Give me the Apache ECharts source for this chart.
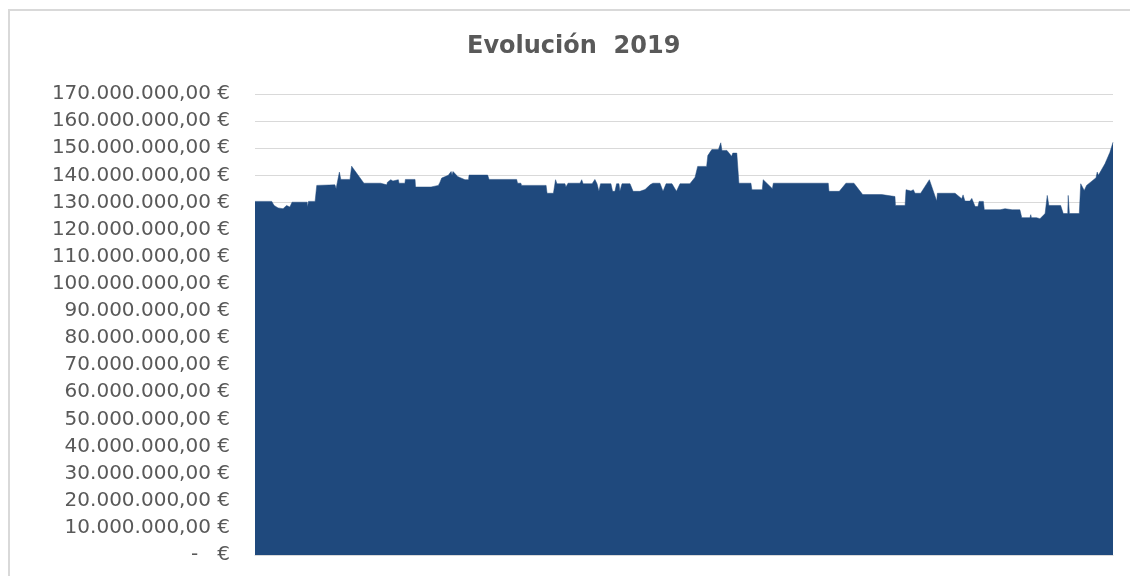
<!DOCTYPE html>
<html>
<head>
<meta charset="utf-8">
<title>Evolución 2019</title>
<script src="https://cdn.jsdelivr.net/npm/echarts@6/dist/echarts.min.js"></script>
<style>
  html, body { margin: 0; padding: 0; background: #fff; overflow: hidden; }
  #frame { position: absolute; left: 8px; top: 9px; width: 1200px; height: 700px;
           border-left: 2px solid #d9d9d9; border-top: 2px solid #d9d9d9; }
  #chart { position: absolute; left: 0; top: 0; width: 1130px; height: 576px; }
</style>
</head>
<body>
<div id="frame"></div>
<div id="chart"></div>
<script>
// day of year (0 = 1 Jan 2019) and balance in millions of euros
const days = [
  0, 7.1, 8.1, 9.8, 11.9, 13.4, 14.8, 15.7, 22.1, 22.3, 22.7, 25.5, 26.2, 33.9, 34.4, 35.8,
  36.4, 40.3, 41.0, 41.7, 46.2, 53.3, 53.7, 55.9, 56.2, 57.6, 58.5, 60.8, 61.1, 63.6, 63.8,
  67.9, 68.1, 74.7, 74.9, 77.8, 78.5, 79.2, 82.0, 83.2, 83.6, 84.0, 86.1, 89.1, 90.6, 90.8,
  98.7, 99.3, 111.0, 111.4, 112.8, 113.1, 123.5, 123.9, 126.6, 127.5, 128.1, 131.5, 131.9,
  132.8, 137.9, 138.6, 139.2, 143.0, 144.2, 145.1, 145.9, 146.6, 151.0, 151.7, 152.7, 153.4,
  154.4, 154.8, 155.7, 159.1, 159.5, 160.4, 163.3, 165.5, 167.6, 168.8, 171.8, 173.1, 174.4,
  176.9, 177.3, 178.8, 180.3, 184.5, 186.7, 187.8, 191.6, 192.1, 193.8, 196.6, 197.6, 198.1,
  200.2, 202.2, 202.7, 204.4, 205.3, 210.4, 210.8, 215.2, 215.6, 219.5, 219.9, 243.2, 243.5,
  247.9, 250.7, 254.1, 257.8, 265.9, 266.4, 271.5, 271.7, 275.8, 276.2, 278.3, 279.3, 280.0,
  282.4, 286.1, 289.2, 289.5, 297.0, 299.8, 300.4, 301.2, 303.3, 304.1, 305.5, 306.7, 307.2,
  309.0, 309.4, 316.1, 318.2, 321.2, 324.5, 325.3, 328.8, 329.1, 329.4, 331.6, 333.0, 335.2,
  336.1, 336.8, 341.8, 342.9, 344.8, 345.0, 345.5, 349.7, 350.3, 351.8, 352.8, 356.8, 357.3,
  357.8, 360.6, 362.7, 364
];
const saldoM = [
  130.4, 130.4, 128.9, 128.0, 127.7, 128.9, 128.3, 130.1, 130.1, 128.3, 130.4, 130.4, 136.3, 136.5, 135.1, 141.2,
  138.5, 138.5, 143.4, 142.5, 137.1, 137.1, 136.5, 136.5, 137.5, 138.4, 137.9, 138.4, 137.1, 137.1, 138.5,
  138.5, 135.7, 135.7, 136.3, 136.3, 137.5, 139.0, 140.0, 141.4, 140.0, 141.4, 139.5, 138.4, 138.4, 140.1,
  140.1, 138.5, 138.5, 137.1, 137.1, 136.3, 136.3, 133.4, 133.4, 138.4, 136.9, 136.9, 135.7,
  137.1, 137.1, 138.4, 136.9, 136.9, 138.5, 136.9, 134.1, 136.9, 136.9, 134.1, 134.1, 136.9,
  136.9, 134.1, 136.9, 136.9, 137.5, 134.1, 134.1, 134.8, 136.5, 137.1, 137.1, 134.1, 136.9,
  136.9, 137.5, 134.1, 136.9, 136.9, 139.3, 143.3, 143.3, 147.3, 149.5, 149.5, 152.0, 149.2,
  149.2, 147.0, 148.2, 148.2, 137.1, 137.1, 134.7, 134.7, 138.4, 135.1, 137.1, 137.1, 134.1,
  134.1, 137.1, 137.1, 132.9, 132.9, 132.2, 132.2, 128.9, 128.9, 134.7, 134.2, 134.7, 133.4,
  133.4, 138.4, 130.5, 133.4, 133.4, 131.4, 132.8, 130.5, 130.5, 131.5, 128.5, 128.5, 130.4,
  130.4, 127.3, 127.3, 127.7, 127.3, 127.3, 124.4, 124.4, 125.5, 124.4, 124.4, 124.0, 125.9,
  132.6, 128.9, 128.9, 125.9, 125.9, 132.6, 125.9, 125.9, 136.9, 134.4, 136.3, 139.1, 141.2,
  140.0, 144.3, 148.5, 152.2
];
const yTicks = { min: 0, max: 170000000, step: 10000000 };

function euros (v) {
  if (v === 0) return '-   €';
  let s = Math.round(v).toString().replace(/\B(?=(\d{3})+(?!\d))/g, '.');
  return s + ',00 €';
}

const chart = echarts.init(document.getElementById('chart'), null, { renderer: 'canvas' });
const option = {
  backgroundColor: 'transparent',
  animation: false,
  title: {
    text: 'Evolución  2019',
    left: 462,
    top: 30,
    textStyle: { fontFamily: 'DejaVu Sans', fontWeight: 'bold', fontSize: 24, color: '#595959' }
  },
  grid: { left: 255, right: 17, top: 94, bottom: 21 },
  xAxis: {
    type: 'value',
    min: 0,
    max: 364,
    axisLine: { show: true, lineStyle: { color: '#d9d9d9', width: 1 } },
    axisTick: { show: false },
    axisLabel: { show: false },
    splitLine: { show: false }
  },
  yAxis: {
    type: 'value',
    min: yTicks.min,
    max: yTicks.max,
    interval: yTicks.step,
    axisLine: { show: false },
    axisTick: { show: false },
    axisLabel: {
      formatter: euros,
      margin: 25,
      fontFamily: 'DejaVu Sans',
      fontSize: 20,
      color: '#595959'
    },
    splitLine: { lineStyle: { color: '#d9d9d9', width: 1 } }
  },
  series: [{
    type: 'line',
    data: days.map((d, i) => [d, saldoM[i] * 1e6]),
    symbol: 'none',
    lineStyle: { color: '#1f497d', width: 0.5 },
    areaStyle: { color: '#1f497d', opacity: 1 },
    z: 3
  }]
};
chart.setOption(option);
</script>
</body>
</html>
